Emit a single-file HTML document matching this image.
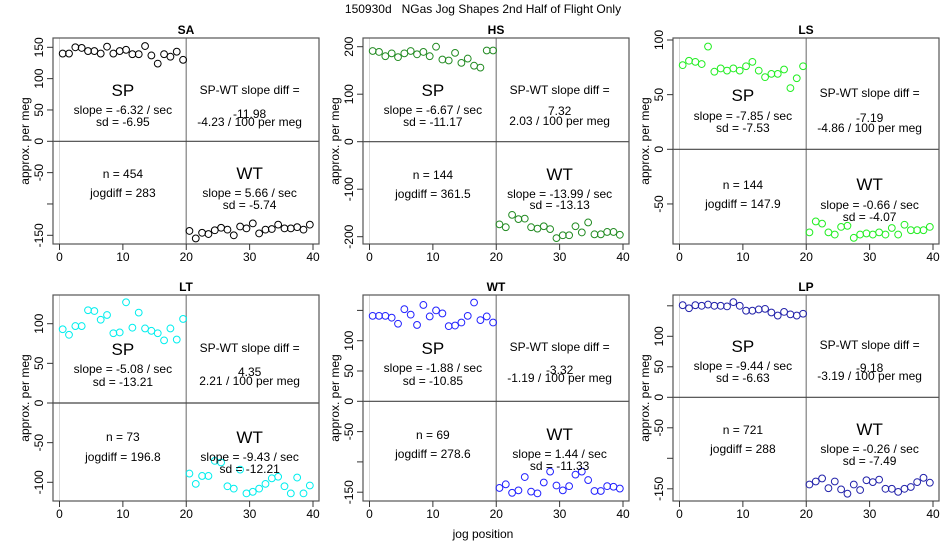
<!DOCTYPE html>
<html><head><meta charset="utf-8"><style>
html,body{margin:0;padding:0;background:#fff;}
svg{display:block;font-family:"Liberation Sans",sans-serif;}
</style></head><body>
<svg id="c" width="950" height="550" viewBox="0 0 950 550">
<text x="483" y="13" font-size="12" text-anchor="middle" style="white-space:pre" xml:space="preserve">150930d   NGas Jog Shapes 2nd Half of Flight Only</text>
<text x="483" y="538" font-size="12" text-anchor="middle">jog position</text>
</svg>
<script>
const panelNames=["SA","HS","LS","LT","WT","LP"];
const spSA=[140,140,150,149,144,144,140,151,140,144,146,139,139,152,137,124,139,135,143,130];
const wtSA=[-143,-155,-146,-148,-142,-138,-141,-150,-136,-139,-131,-147,-141,-140,-133,-139,-139,-137,-141,-133];
const spHS=[191,189,180,186,178,186,191,184,189,180,200,173,171,187,166,175,160,156,192,192];
const wtHS=[-174,-180,-154,-163,-162,-180,-183,-178,-184,-203,-197,-197,-178,-191,-170,-195,-195,-190,-190,-196];
const spLS=[77,81,80,78,94,71,74,72,74,72,76,80,72,66,69,69,73,56,65,76];
const wtLS=[-76,-66,-68,-76,-78,-71,-70,-81,-78,-77,-78,-76,-78,-72,-78,-69,-74,-74,-74,-71];
const spLT=[93,86,97,97,117,116,105,111,88,89,127,95,114,94,91,88,79,94,80,106];
const wtLT=[-89,-102,-92,-92,-73,-75,-105,-108,-84,-114,-112,-108,-102,-95,-93,-105,-114,-94,-114,-104];
const spWT=[141,141,141,138,128,152,143,126,159,140,150,145,124,125,130,141,163,134,140,130];
const wtWT=[-143,-137,-151,-147,-125,-149,-152,-134,-116,-139,-147,-140,-121,-116,-130,-148,-148,-140,-141,-144];
const spLP=[151,146,151,150,152,150,150,149,156,150,142,142,144,145,139,134,140,136,134,137];
const wtLP=[-143,-138,-133,-149,-138,-151,-158,-143,-152,-136,-139,-135,-150,-150,-155,-150,-147,-139,-132,-140];
const spSeries=[spSA,spHS,spLS,spLT,spWT,spLP];
const wtSeries=[wtSA,wtHS,wtLS,wtLT,wtWT,wtLP];
const yTicks=[[150,100,50,0,-50,-100,-150],[200,100,0,-100,-200],[100,50,0,-50],[100,50,0,-50,-100],[150,100,50,0,-50,-100,-150],[150,100,50,0,-50,-100,-150]];
const yTickLabels=[["150","100","50","0","-50","","-150"],["200","100","0","-100","-200"],["100","50","0","-50"],["100","50","0","-50","-100"],["","100","50","0","-50","","-150"],["","100","50","0","-50","","-150"]];
const xTicks=[0,10,20,30,40];
const spSlope=["-6.32","-6.67","-7.85","-5.08","-1.88","-9.44"];
const spSd=["-6.95","-11.17","-7.53","-13.21","-10.85","-6.63"];
const wtSlope=["5.66","-13.99","-0.66","-9.43","1.44","-0.26"];
const wtSd=["-5.74","-13.13","-4.07","-12.21","-11.33","-7.49"];
const diffVal=["-11.98","7.32","-7.19","4.35","-3.32","-9.18"];
const diffPer=["-4.23","2.03","-4.86","2.21","-1.19","-3.19"];
const nVals=["454","144","144","73","69","721"];
const jogVals=["283","361.5","147.9","196.8","278.6","288"];
const colors=["#000000","#228b22","#22ee22","#00eeee","#2222ff","#2222aa"];
const yRef=[[150,47.3,0,141.3],[200,46.7,0,141.7],[100,40,0,149.3],[100,323.7,0,403],[100,340.7,0,401.3],[100,336.3,0,397.3]];
const txtY=[[90,110,122,90,114,122,174,193,173,193,205],[90,110,122,90,111,121,175,194,174,194,205],[95,116,128,93,118,128,185,204,184,205,217],
[349,369,382,348,372,381,437,457,437,457,469],[348,368,381,347,370,378,435,454,434,454,466],[346,366,378,345,368,376,430,449,429,449,461]];
const NS="http://www.w3.org/2000/svg";
const svg=document.getElementById('c');
function mk(tag,attrs,parent,txt){const e=document.createElementNS(NS,tag);for(const k in attrs)e.setAttribute(k,attrs[k]);if(txt!==undefined)e.textContent=txt;parent.appendChild(e);return e;}
for(let p=0;p<6;p++){
  const col=p%3,row=Math.floor(p/3);
  const ox=col*310;
  const top=row?295:38,bot=row?501:244;
  const left=53+ox,right=319+ox;
  const xs=v=>ox+59.5+(313-59.5)*v/40;
  const r=yRef[p];
  const ys=v=>r[3]+(r[1]-r[3])*(v-r[2])/(r[0]-r[2]);
  const g=mk('g',{},svg);
  
  
  const t=mk('text',{x:(left+right)/2,y:top-4,'font-size':12,'font-weight':'bold','text-anchor':'middle'},g,panelNames[p]);
  
  
  const gl=mk('line',{x1:xs(0),x2:xs(0),y1:top,y2:bot,stroke:'#d8d8d8','stroke-width':1},g);
  
  
  const vl=mk('line',{x1:xs(20),x2:xs(20),y1:top,y2:bot,stroke:'#999','stroke-width':1.5},g);
  
  
  const hl=mk('line',{x1:left,x2:right,y1:ys(0),y2:ys(0),stroke:'#444','stroke-width':1.2},g);
  
  
  const box=mk('rect',{x:left,y:top,width:right-left,height:bot-top,fill:'none',stroke:'#555','stroke-width':1.2},g);
  
  
  yTicks[p].forEach((v,i)=>{
    const y=ys(v);
    const tl=mk('line',{x1:left-6,x2:left,y1:y,y2:y,stroke:'#333'},g);
    
    
    if(yTickLabels[p][i]){
      const lb=mk('text',{x:0,y:0,'font-size':12,'text-anchor':'middle',transform:`translate(${left-10},${y}) rotate(-90)`},g,yTickLabels[p][i]);
      
      
    }
  });
  const yl=mk('text',{x:0,y:0,'font-size':12,'text-anchor':'middle',transform:`translate(${ox+29},${(top+bot)/2}) rotate(-90)`},g,'approx. per meg');
  
  
  xTicks.forEach(v=>{
    const x=xs(v);
    const tl=mk('line',{x1:x,x2:x,y1:bot,y2:bot+6,stroke:'#333'},g);
    
    
    const lb=mk('text',{x:x,y:bot+17,'font-size':12,'text-anchor':'middle'},g,String(v));
    
    
  });
  spSeries[p].forEach((v,i)=>{
    const c=mk('circle',{cx:xs(i+0.5),cy:ys(v),r:3.4,fill:'none',stroke:colors[p],'stroke-width':1},g);
    
    
  });
  wtSeries[p].forEach((v,i)=>{
    const c=mk('circle',{cx:xs(i+20.5),cy:ys(v),r:3.4,fill:'none',stroke:colors[p],'stroke-width':1},g);
    
    
  });
  const ty=txtY[p];
  const L=xs(10),R=xs(30);
  const ann=[[L,ty[0],17,'SP','sp-label'],[L,ty[1],12,'slope = '+spSlope[p]+' / sec','sp-slope'],[L,ty[2],12,'sd = '+spSd[p],'sp-sd'],
    [R,ty[3],12,'SP-WT slope diff =','diff-label'],[R,ty[4],12,diffVal[p],'diff-value'],[R,ty[5],12,diffPer[p]+' / 100 per meg','diff-per-meg'],
    [L,ty[6],12,'n = '+nVals[p],'n-label'],[L,ty[7],12,'jogdiff = '+jogVals[p],'jogdiff-label'],
    [R,ty[8],17,'WT','wt-label'],[R,ty[9],12,'slope = '+wtSlope[p]+' / sec','wt-slope'],[R,ty[10],12,'sd = '+wtSd[p],'wt-sd']];
  ann.forEach(a=>{
    const e=mk('text',{x:a[0],y:a[1]+(a[2]>14?6:4),'font-size':a[2],'text-anchor':'middle'},g,a[3]);
    
    
  });
}
</script>
</body></html>
